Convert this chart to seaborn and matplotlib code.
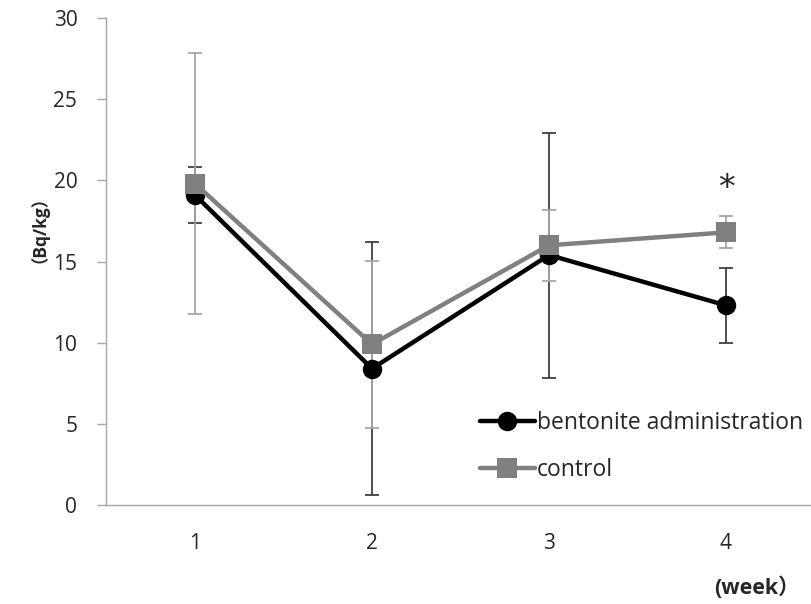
import numpy as np
import pandas as pd
import seaborn as sns
import matplotlib.pyplot as plt

weeks = [1, 2, 3, 4]
bentonite = [19.1, 8.4, 15.4, 12.3]
bentonite_err = [1.75, 7.8, 7.55, 2.3]
control = [19.8, 9.9, 16.0, 16.8]
control_err = [8.05, 5.15, 2.2, 0.98]
series = ["bentonite administration", "control"]

df = pd.DataFrame({
    "week": weeks * 2,
    "value": bentonite + control,
    "group": [series[0]] * 4 + [series[1]] * 4,
})

sns.set_style("white")
plt.rcParams['font.family'] = ['Open Sans', 'Noto Sans CJK JP', 'DejaVu Sans']

fig = plt.figure(figsize=(8.11, 6.04), dpi=100)
ax = fig.add_axes([0.1313, 0.164, 0.873, 0.806])

# error bars first so they sit behind the markers
ax.errorbar(weeks, bentonite, yerr=bentonite_err, fmt="none", ecolor="#404040",
            elinewidth=1.3, capsize=5, capthick=1.3, zorder=1)
ax.errorbar(weeks, control, yerr=control_err, fmt="none", ecolor="#a6a6a6",
            elinewidth=1.3, capsize=5, capthick=1.3, zorder=1)

sns.lineplot(data=df, x="week", y="value", hue="group", style="group",
             markers={series[0]: "o", series[1]: "s"}, dashes=False,
             palette={series[0]: "black", series[1]: "#808080"},
             linewidth=3.2, markersize=14, markeredgewidth=0, ax=ax, zorder=3)

ax.text(4, 19.5, "*", ha="center", va="center", fontsize=24, family="DejaVu Sans")

ax.set_xlim(0.5, 4.5)
ax.set_ylim(0, 30)
ax.set_yticks(range(0, 31, 5))
ax.set_xticks(weeks)
ax.set_xticks([0.5, 1.5, 2.5, 3.5, 4.5], minor=True)
ax.tick_params(axis="x", which="major", length=0, pad=20, labelsize=15)
ax.tick_params(axis="x", which="minor", length=6.5, color="#a6a6a6", width=1)
ax.tick_params(axis="y", length=6.5, color="#a6a6a6", width=1, pad=14.5, labelsize=15, left=True)
for s in ["top", "right"]:
    ax.spines[s].set_visible(False)
for s in ["left", "bottom"]:
    ax.spines[s].set_color("#a6a6a6")
    ax.spines[s].set_linewidth(1)
ax.set_xlabel("")
ax.set_ylabel("")

fig.text(0.037, 0.635, "（Bq/kg）", rotation=90, ha="center", va="center",
         fontsize=12.5, fontweight="bold")
fig.text(0.933, 0.027, "(week）", ha="center", va="center",
         fontsize=15.5, fontweight="bold")

leg = ax.legend(loc="upper left", bbox_to_anchor=(0.498, 0.236), frameon=False,
                fontsize=16.5, handlelength=2.4, handletextpad=0.1, labelspacing=1.0)

fig.savefig("out.png", dpi=100)
